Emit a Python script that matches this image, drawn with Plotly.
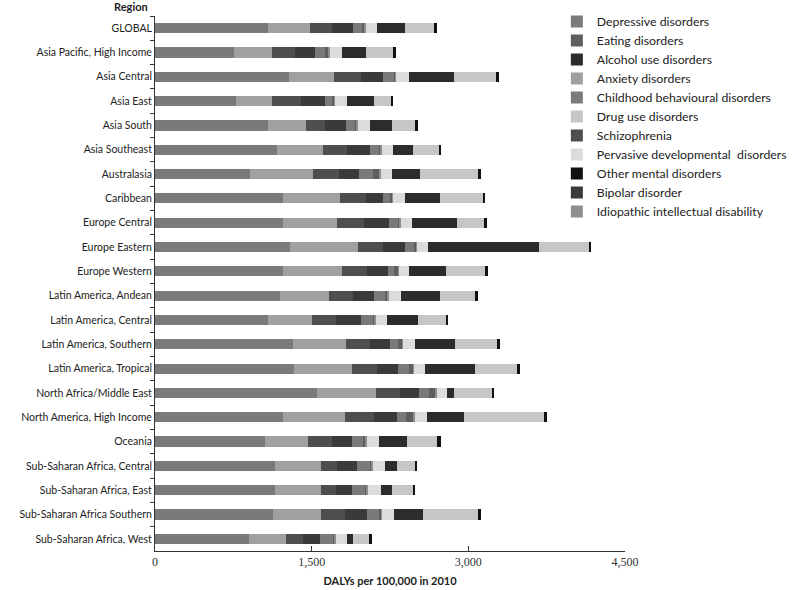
import plotly.graph_objects as go

regions = ["GLOBAL", "Asia Pacific, High Income", "Asia Central", "Asia East", "Asia South",
           "Asia Southeast", "Australasia", "Caribbean", "Europe Central", "Europe Eastern",
           "Europe Western", "Latin America, Andean", "Latin America, Central",
           "Latin America, Southern", "Latin America, Tropical", "North Africa/Middle East",
           "North America, High Income", "Oceania", "Sub-Saharan Africa, Central",
           "Sub-Saharan Africa, East", "Sub-Saharan Africa Southern", "Sub-Saharan Africa, West"]

depressive = [1085, 760, 1280, 780, 1080, 1170, 909, 1228, 1228, 1290, 1228, 1200, 1080, 1324, 1330, 1550, 1228, 1050, 1150, 1150, 1130, 900]
anxiety = [400, 360, 436, 340, 370, 440, 600, 546, 510, 656, 565, 468, 426, 500, 552, 565, 590, 411, 435, 439, 459, 354]
schizophrenia = [205, 223, 252, 281, 175, 230, 255, 246, 262, 239, 233, 230, 223, 233, 239, 230, 280, 230, 160, 144, 230, 166]
bipolar = [210, 185, 217, 223, 201, 214, 191, 160, 239, 207, 207, 198, 242, 191, 207, 185, 220, 198, 185, 156, 214, 160]
childhood = [90, 96, 105, 80, 93, 96, 128, 70, 86, 96, 57, 115, 112, 77, 100, 96, 89, 112, 137, 131, 121, 128]
eating = [15, 41, 10, 10, 10, 10, 70, 20, 20, 15, 40, 15, 20, 41, 44, 60, 70, 10, 8, 8, 10, 8]
idiopathic = [12, 10, 12, 10, 14, 12, 10, 12, 10, 10, 10, 14, 12, 10, 12, 14, 10, 14, 16, 16, 14, 16]
pervasive = [110, 112, 118, 112, 115, 108, 108, 112, 105, 99, 96, 112, 105, 112, 105, 96, 118, 121, 108, 118, 115, 102]
alcohol = [270, 233, 437, 258, 207, 191, 262, 332, 431, 1069, 351, 373, 297, 389, 479, 70, 357, 268, 121, 105, 271, 64]
drug = [275, 262, 400, 163, 233, 250, 555, 414, 255, 472, 376, 341, 271, 396, 396, 357, 760, 284, 166, 204, 526, 160]
other = [25, 22, 25, 22, 19, 22, 29, 22, 29, 26, 29, 22, 22, 32, 26, 26, 32, 38, 25, 19, 32, 16]

x_ticks = [0, 1500, 3000, 4500]
x_tick_labels = ["0", "1,500", "3,000", "4,500"]

# (name, values, colour, legend rank) in stacking order
series = [
    ("Depressive disorders", depressive, "#7a7a7a", 1),
    ("Anxiety disorders", anxiety, "#a0a0a0", 4),
    ("Schizophrenia", schizophrenia, "#4e4e4e", 7),
    ("Bipolar disorder", bipolar, "#3a3a3a", 10),
    ("Childhood behavioural disorders", childhood, "#7a7a7a", 5),
    ("Eating disorders", eating, "#5e5e5e", 2),
    ("Idiopathic intellectual disability", idiopathic, "#8e8e8e", 11),
    ("Pervasive developmental  disorders", pervasive, "#dcdcdc", 8),
    ("Alcohol use disorders", alcohol, "#2c2c2c", 3),
    ("Drug use disorders", drug, "#c6c6c6", 6),
    ("Other mental disorders", other, "#111111", 9),
]

fig = go.Figure()
for name, vals, col, rank in series:
    fig.add_trace(go.Bar(
        y=regions, x=vals, name=name, orientation="h",
        marker=dict(color=col, line=dict(width=0)),
        legendrank=rank,
    ))

fig.update_layout(
    width=800, height=590,
    barmode="stack", bargap=0.58,
    paper_bgcolor="white", plot_bgcolor="white",
    margin=dict(l=155, r=175, t=16, b=39, autoexpand=False),
    font=dict(family="Lato, sans-serif", size=11, color="#222"),
    showlegend=True,
    legend=dict(x=0.855, y=1.017, xanchor="left", yanchor="top",
                font=dict(size=12.3, color="#222"), bgcolor="rgba(0,0,0,0)",
                traceorder="normal", itemwidth=30, tracegroupgap=0),
    xaxis=dict(range=[0, 4500], tickvals=x_ticks, ticktext=x_tick_labels,
               showgrid=False, zeroline=False, showline=True, linecolor="#333",
               ticks="inside", ticklen=5, tickcolor="#333", automargin=False,
               tickfont=dict(family="Liberation Serif, serif", size=12, color="#333"),
               title=dict(text="<b>DALYs per 100,000 in 2010</b>", standoff=8,
                          font=dict(size=11, color="#222"))),
    yaxis=dict(autorange="reversed", showgrid=False, showline=True, linecolor="#333",
               ticks="outside", ticklen=4, tickcolor="#333", tickson="boundaries",
               automargin=False, tickfont=dict(size=10.5, color="#222")),
    annotations=[dict(text="<b>Region</b>", xref="paper", yref="paper", x=-0.011, y=1.017,
                      xanchor="right", yanchor="middle", showarrow=False,
                      font=dict(size=11, color="#222"))],
)

fig.write_html("out.html", config={"displayModeBar": False},
               post_script="document.body.style.margin='0';")
